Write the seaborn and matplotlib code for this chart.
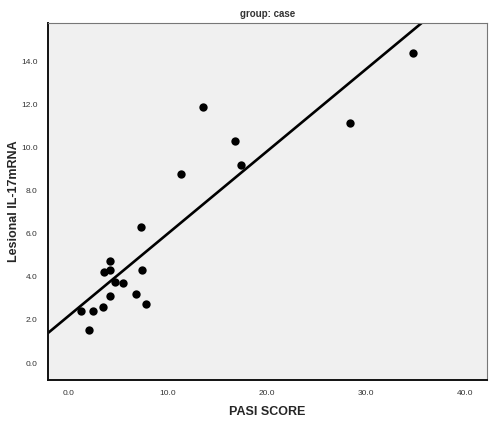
import matplotlib
matplotlib.use("Agg")
import matplotlib.pyplot as plt
import seaborn as sns
import pandas as pd
import numpy as np

pasi = [34.75, 28.4, 13.5, 16.8, 17.4, 11.3, 7.3, 4.2, 4.2, 3.5, 7.4, 4.65, 5.45, 4.2, 6.8, 7.8, 3.4, 2.4, 1.2, 2.0]
il17 = [14.42, 11.16, 11.9, 10.3, 9.21, 8.79, 6.33, 4.74, 4.33, 4.23, 4.33, 3.77, 3.72, 3.12, 3.21, 2.74, 2.6, 2.42, 2.42, 1.53]
xticks = [0, 10, 20, 30, 40]
yticks = [0, 2, 4, 6, 8, 10, 12, 14]

df = pd.DataFrame({"PASI SCORE": pasi, "Lesional IL-17mRNA": il17})

sns.set_style("white")
plt.rcParams['font.family'] = ['Liberation Sans', 'DejaVu Sans']

fig = plt.figure(figsize=(4.95, 4.22), dpi=100)
ax = fig.add_axes([0.097, 0.0995, 0.887, 0.846])
ax.set_facecolor("#f0f0f0")
ax.set_xlim(-2.1, 42.2)
ax.set_ylim(-0.79, 15.8)

sns.regplot(data=df, x="PASI SCORE", y="Lesional IL-17mRNA", ax=ax, ci=None, truncate=False,
            scatter_kws=dict(s=36, color="black", edgecolor="black", linewidths=0, alpha=1, zorder=3),
            line_kws=dict(color="black", lw=1.9))

ax.set_xlim(-2.1, 42.2)
ax.set_ylim(-0.79, 15.8)
ax.set_xticks(xticks)
ax.set_xticklabels([f"{v:.1f}" for v in xticks])
ax.set_yticks(yticks)
ax.set_yticklabels([f"{v:.1f}" for v in yticks])
ax.tick_params(axis="both", labelsize=6, labelcolor="#333333", color="#222222", length=4, width=1, direction="out")
for side in ["top", "right"]:
    ax.spines[side].set_color("#777777")
    ax.spines[side].set_linewidth(0.8)
for side in ["left", "bottom"]:
    ax.spines[side].set_color("#111111")
    ax.spines[side].set_linewidth(1.4)

ax.set_xlabel("PASI SCORE", fontsize=9, fontweight="bold", labelpad=6)
ax.set_ylabel("Lesional IL-17mRNA", fontsize=9, fontweight="bold", labelpad=1)
ax.set_title("group: case", fontsize=7, fontweight="bold", color="#333333", pad=4)

fig.savefig("out.png", dpi=100)
